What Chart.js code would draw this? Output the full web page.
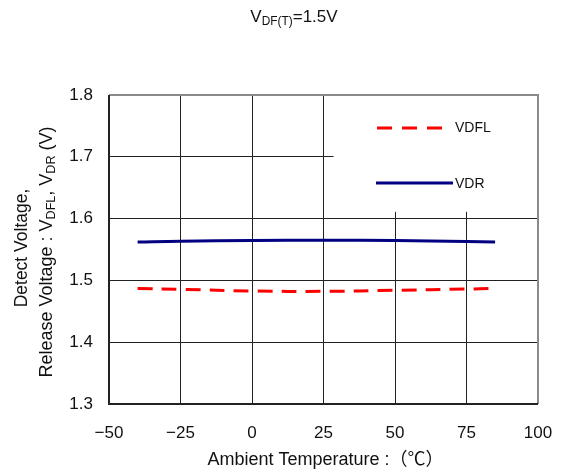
<!DOCTYPE html>
<html>
<head>
<script src="https://cdn.jsdelivr.net/npm/chart.js@4.4.1/dist/chart.umd.min.js"></script>
<style>
  body { margin: 0; background: #fff; }
  #wrap { width: 562px; height: 476px; }
</style>
</head>
<body>
<div id="wrap"><canvas id="chart" width="562" height="476"></canvas></div>
<script>
// temperature points (deg C)
var temps = [-40, -25, 0, 25, 50, 75, 85];
// detect voltage VDFL and release voltage VDR (V)
var vdfl = [1.487, 1.4856, 1.4828, 1.4823, 1.484, 1.486, 1.487];
var vdr  = [1.562, 1.5635, 1.5645, 1.565, 1.5645, 1.563, 1.562];
var xTicks = [-50, -25, 0, 25, 50, 75, 100];
var yTicks = [1.3, 1.4, 1.5, 1.6, 1.7, 1.8];

var FONT = "'Liberation Sans', 'Noto Sans CJK JP', sans-serif";

function pts(xs, ys) {
  var out = [];
  for (var i = 0; i < xs.length; i++) out.push({x: xs[i], y: ys[i]});
  return out;
}

// draws text pieces, some as subscripts; returns end x
function richText(ctx, parts, x, y, size) {
  for (var i = 0; i < parts.length; i++) {
    var p = parts[i];
    var s = p.sub ? size * 0.7 : size;
    ctx.font = s + "px " + FONT;
    ctx.fillText(p.t, x, p.sub ? y + size * 0.25 : y);
    x += ctx.measureText(p.t).width;
  }
  return x;
}
function richWidth(ctx, parts, size) {
  var w = 0;
  for (var i = 0; i < parts.length; i++) {
    var p = parts[i];
    ctx.font = (p.sub ? size * 0.7 : size) + "px " + FONT;
    w += ctx.measureText(p.t).width;
  }
  return w;
}

var decor = {
  id: 'decor',
  beforeDatasetsDraw: function(chart) {
    var ctx = chart.ctx, a = chart.chartArea, sx = chart.scales.x, sy = chart.scales.y;
    // white box behind legend hides part of the grid
    ctx.save();
    ctx.fillStyle = '#fff';
    var l = sx.getPixelForValue(28.5), b = sy.getPixelForValue(1.611);
    ctx.fillRect(l, a.top + 1, a.right - l - 1, b - a.top - 1);
    ctx.restore();
  },
  afterDraw: function(chart) {
    var ctx = chart.ctx, a = chart.chartArea;
    ctx.save();
    // frame
    ctx.lineWidth = 2;
    ctx.strokeStyle = '#8a8a8a';
    ctx.beginPath();
    ctx.moveTo(a.left, a.top); ctx.lineTo(a.right, a.top); ctx.lineTo(a.right, a.bottom);
    ctx.stroke();
    ctx.strokeStyle = '#222';
    ctx.beginPath();
    ctx.moveTo(a.left, a.top); ctx.lineTo(a.left, a.bottom); ctx.lineTo(a.right, a.bottom);
    ctx.stroke();

    ctx.fillStyle = '#111';
    ctx.textBaseline = 'middle';
    ctx.textAlign = 'left';
    // title
    var title = [{t: 'V'}, {t: 'DF(T)', sub: true}, {t: '=1.5V'}];
    var tw = richWidth(ctx, title, 17);
    richText(ctx, title, 294 - tw / 2, 17, 17);

    // x axis title
    ctx.font = "18px " + FONT;
    ctx.textAlign = 'center';
    ctx.fillText('Ambient Temperature :（℃）', (a.left + a.right) / 2 + 2, 460);

    // y axis title (rotated)
    ctx.textAlign = 'left';
    ctx.save();
    ctx.translate(22, 248);
    ctx.rotate(-Math.PI / 2);
    var l1 = [{t: 'Detect Voltage,'}];
    richText(ctx, l1, -richWidth(ctx, l1, 17.5) / 2, 0, 17.5);
    ctx.restore();
    ctx.save();
    ctx.translate(47, 252);
    ctx.rotate(-Math.PI / 2);
    var l2 = [{t: 'Release Voltage : V'}, {t: 'DFL', sub: true}, {t: ', V'}, {t: 'DR', sub: true}, {t: ' (V)'}];
    richText(ctx, l2, -richWidth(ctx, l2, 18) / 2, 0, 18);
    ctx.restore();

    // legend
    ctx.lineWidth = 3;
    ctx.strokeStyle = '#ff0000';
    ctx.setLineDash([15, 10]);
    ctx.beginPath(); ctx.moveTo(377, 128); ctx.lineTo(452, 128); ctx.stroke();
    ctx.setLineDash([]);
    ctx.strokeStyle = '#000080';
    ctx.lineWidth = 3;
    ctx.beginPath(); ctx.moveTo(376, 183); ctx.lineTo(453, 183); ctx.stroke();
    ctx.font = "14px " + FONT;
    ctx.fillStyle = '#111';
    ctx.fillText('VDFL', 455, 128);
    ctx.fillText('VDR', 455, 184);
    ctx.restore();
  }
};

new Chart(document.getElementById('chart'), {
  type: 'line',
  data: {
    datasets: [{
      label: 'VDFL',
      data: pts(temps, vdfl),
      borderColor: '#ff0000',
      borderWidth: 3,
      borderDash: [15, 9],
      pointRadius: 0,
      tension: 0.4,
      fill: false
    }, {
      label: 'VDR',
      data: pts(temps, vdr),
      borderColor: '#000080',
      borderWidth: 3,
      pointRadius: 0,
      tension: 0.4,
      fill: false
    }]
  },
  options: {
    responsive: false,
    animation: false,
    devicePixelRatio: 1,
    layout: { padding: { top: 95, right: 24, left: 0, bottom: 0 } },
    plugins: { legend: { display: false }, tooltip: { enabled: false } },
    scales: {
      x: {
        type: 'linear', min: -50, max: 100,
        afterBuildTicks: function(s) { s.ticks = xTicks.map(function(v) { return {value: v}; }); },
        afterFit: function(s) { s.height = 72; s.paddingLeft = 0; s.paddingRight = 0; },
        grid: { color: '#222', lineWidth: 1, drawTicks: false },
        border: { display: false },
        ticks: {
          color: '#111', padding: 19,
          font: { family: FONT, size: 17 },
          callback: function(v) { return v < 0 ? '\u2212' + Math.abs(v) : '' + v; }
        }
      },
      y: {
        min: 1.3, max: 1.8,
        afterBuildTicks: function(s) { s.ticks = yTicks.map(function(v) { return {value: v}; }); },
        afterFit: function(s) { s.width = 109; s.paddingTop = 0; s.paddingBottom = 0; },
        grid: { color: '#222', lineWidth: 1, drawTicks: false },
        border: { display: false },
        ticks: {
          color: '#111', padding: 16,
          font: { family: FONT, size: 17 },
          callback: function(v) { return v.toFixed(1); }
        }
      }
    }
  },
  plugins: [decor]
});
</script>
</body>
</html>
